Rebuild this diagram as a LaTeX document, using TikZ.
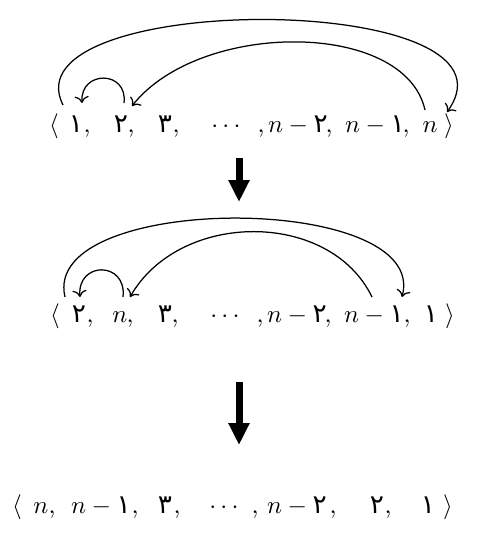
\documentclass[tikz,border=0pt]{standalone}
\usepackage{fontspec}
\usetikzlibrary{arrows.meta}
\newfontfamily\fa[Script=Arabic]{DejaVu Sans}
\newcommand{\pd}[1]{{\fontsize{10.5}{12}\selectfont\fa #1}}
\tikzset{
  tok/.style={anchor=base, inner sep=0pt, outer sep=0pt, font=\fontsize{10}{12}\selectfont},
  tokw/.style={tok, anchor=base west},
  arc/.style={->, line width=0.5pt},
  bigarrow/.style={line width=2.8pt, -{Triangle[length=8.8pt,width=8pt]}}
}
\begin{document}
\begin{tikzpicture}[x=0.4pt,y=-0.4pt]
\useasboundingbox (0,0) rectangle (477,546);
% ---------- row 1 ----------
\node[tok] (r1l) at (54,133) {$\langle$};
\node[tok] (r1a) at (76,133) {\pd{۱}};
\node[tok] (r1c1) at (87,133) {,};
\node[tok] (r1b) at (121,133) {\pd{۲}};
\node[tok] (r1c2) at (131,133) {,};
\node[tok] (r1d) at (165,133) {\pd{۳}};
\node[tok] (r1c3) at (176,133) {,};
\node[tok] (r1e) at (226,133) {$\cdots$};
\node[tok] (r1c4) at (261,133) {,};
\node[tokw] (r1f) at (268,133) {$n-{}$\pd{۲}};
\node[tok] (r1c5) at (329,133) {,};
\node[tokw] (r1g) at (345,133) {$n-{}$\pd{۱}};
\node[tok] (r1c6) at (406,133) {,};
\node[tok] (r1n) at (430,133) {$n$};
\node[tok] (r1r) at (449,133) {$\rangle$};
\draw[arc] ([shift={(3,-30)}]r1b.base) .. controls (128,70) and (80,70) .. ([shift={(6,-30)}]r1a.base);
\draw[arc] ([shift={(-5,-23)}]r1n.base) .. controls (405,20) and (200,20) .. ([shift={(11,-27)}]r1b.base);
\draw[arc] ([shift={(9,-28)}]r1l.base) .. controls (5,-10) and (535,-10) .. ([shift={(17,-21)}]r1n.base);
% ---------- arrow 1 ----------
\coordinate (d1s) at (239,158);
\coordinate (d1e) at (239,202);
\draw[bigarrow] (d1s) -- (d1e);
% ---------- row 2 ----------
\node[tok] (r2l) at (55,322) {$\langle$};
\node[tok] (r2a) at (79,322) {\pd{۲}};
\node[tok] (r2c1) at (90,322) {,};
\node[tok] (r2b) at (120,322) {$n$};
\node[tok] (r2c2) at (130,322) {,};
\node[tok] (r2d) at (165,322) {\pd{۳}};
\node[tok] (r2c3) at (175,322) {,};
\node[tok] (r2e) at (225,322) {$\cdots$};
\node[tok] (r2c4) at (260,322) {,};
\node[tokw] (r2f) at (267,322) {$n-{}$\pd{۲}};
\node[tok] (r2c5) at (328,322) {,};
\node[tokw] (r2g) at (344,322) {$n-{}$\pd{۱}};
\node[tok] (r2c6) at (407,322) {,};
\node[tok] (r2h) at (431,322) {\pd{۱}};
\node[tok] (r2r) at (450,322) {$\rangle$};
\draw[arc] ([shift={(3,-25)}]r2b.base) .. controls (127,261) and (77,261) .. ([shift={(1,-25)}]r2a.base);
\draw[arc] ([shift={(28,-25)}]r2g.base west) .. controls (330,210) and (180,210) .. ([shift={(10,-25)}]r2b.base);
\draw[arc] ([shift={(10,-25)}]r2l.base) .. controls (40,192) and (430,192) .. ([shift={(58,-25)}]r2g.base west);
% ---------- arrow 2 ----------
\coordinate (d2s) at (239,382);
\coordinate (d2e) at (239,445);
\draw[bigarrow] (d2s) -- (d2e);
% ---------- row 3 ----------
\node[tok] (r3l) at (17,513) {$\langle$};
\node[tok] (r3a) at (41,513) {$n$};
\node[tok] (r3c1) at (52,513) {,};
\node[tokw] (r3b) at (71,513) {$n-{}$\pd{۱}};
\node[tok] (r3c2) at (135,513) {,};
\node[tok] (r3d) at (165,513) {\pd{۳}};
\node[tok] (r3c3) at (177,513) {,};
\node[tok] (r3e) at (224,513) {$\cdots$};
\node[tok] (r3c4) at (255,513) {,};
\node[tokw] (r3f) at (267,513) {$n-{}$\pd{۲}};
\node[tok] (r3c5) at (333,513) {,};
\node[tok] (r3g) at (377,513) {\pd{۲}};
\node[tok] (r3c6) at (388,513) {,};
\node[tok] (r3h) at (428,513) {\pd{۱}};
\node[tok] (r3r) at (448,513) {$\rangle$};
\end{tikzpicture}
\end{document}
